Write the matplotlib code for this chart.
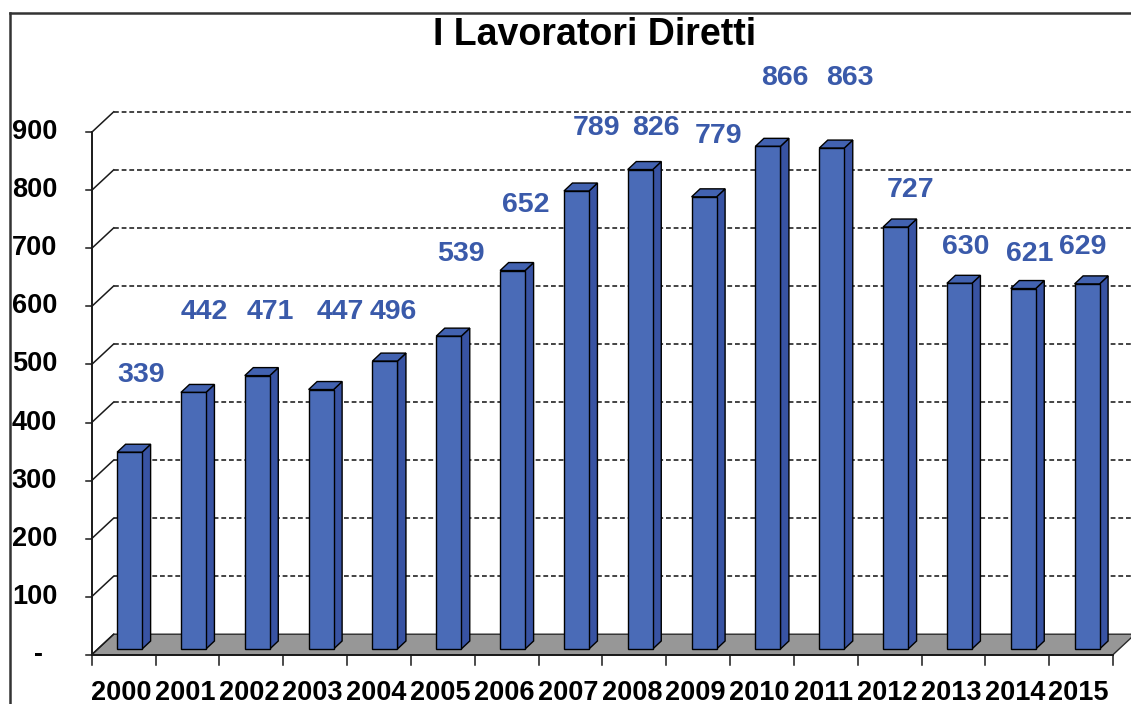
import matplotlib
matplotlib.use('Agg')
import matplotlib.pyplot as plt
from matplotlib.patches import Polygon
from matplotlib.lines import Line2D
from matplotlib import font_manager

# ---------------- data ----------------
title = 'I Lavoratori Diretti'
years = ['2000', '2001', '2002', '2003', '2004', '2005', '2006', '2007',
         '2008', '2009', '2010', '2011', '2012', '2013', '2014', '2015']
values = [339, 442, 471, 447, 496, 539, 652, 789, 826, 779, 866, 863, 727, 630, 621, 629]
y_ticks = [0, 100, 200, 300, 400, 500, 600, 700, 800, 900]
y_tick_labels = ['-', '100', '200', '300', '400', '500', '600', '700', '800', '900']

# ---------------- layout (pixels) ----------------
label_dx = [17, 17, 19, 25, 14, 18, 19, 26, 22, 20, 23, 24, 21, 12, 12, 2]
label_dy = [83, 86, 69, 83, 55, 88, 71, 69, 47, 67, 74, 76, 43, 42, 40, 43]

W, H, DPI = 1131, 704, 100
FRONT_COLOR = '#4A6BB7'
SIDE_COLOR = '#3853A3'
TOP_COLOR = '#4262B0'
LABEL_COLOR = '#3A5AAA'
FLOOR_COLOR = '#979797'

names = {f.name for f in font_manager.fontManager.ttflist}
BASE = 'Liberation Sans' if 'Liberation Sans' in names else 'DejaVu Sans'
if 'Liberation Sans Narrow' in names:
    TITLE_FONT, TITLE_SIZE = 'Liberation Sans Narrow', 31
else:
    TITLE_FONT, TITLE_SIZE = BASE, 27
plt.rcParams['font.family'] = [BASE, 'DejaVu Sans']

fig = plt.figure(figsize=(W / DPI, H / DPI), dpi=DPI)
x0, x1 = 91.7, 1113.0
y0, y9 = 654.7, 132.3
ax = fig.add_axes([x0 / W, (H - y0) / H, (x1 - x0) / W, (y0 - y9) / H])
n = len(values)
ax.set_xlim(-0.5, n - 0.5)
ax.set_ylim(0, 900)
ax.axis('off')

ppx = (x1 - x0) / n          # pixels per category
ppy = (y0 - y9) / 900.0      # pixels per value unit


def px(dx, dy):
    return dx / ppx, dy / ppy


# wall depth
wdx, wdy = px(22, 20.5)
# bar placement inside depth
bdx, bdy = px(6, 5.7)
# bar depth
ddx, ddy = px(8.5, 8)
bw = 25 / ppx

L, R = -0.5, n - 0.5

# floor
ax.add_patch(Polygon([(L, 0), (R, 0), (R + wdx, wdy), (L + wdx, wdy)], closed=True,
                     facecolor=FLOOR_COLOR, edgecolor='#2a2a2a', lw=1.0,
                     clip_on=False, zorder=1))

# back gridlines and left-wall diagonals
for v in y_ticks:
    if v > 0:
        ax.add_line(Line2D([L + wdx, R + wdx + 2], [v + wdy, v + wdy], color='#1a1a1a',
                           lw=1.15, linestyle=(0, (3.0, 1.8)), clip_on=False, zorder=2))
    ax.add_line(Line2D([L, L + wdx], [v, v + wdy], color='#1a1a1a', lw=1.1,
                       clip_on=False, zorder=2))

# front vertical axis + ticks
ax.add_line(Line2D([L, L], [0, 900], color='#1a1a1a', lw=1.4, clip_on=False, zorder=3))
tdx, _ = px(6, 0)
for v, lab in zip(y_ticks, y_tick_labels):
    ax.add_line(Line2D([L - tdx, L], [v, v], color='#1a1a1a', lw=1.1, clip_on=False, zorder=3))
    if lab == '-':
        ax.text(L - px(53, 0)[0], v, lab, ha='center', va='center', fontsize=19.5,
                fontweight='bold', color='black')
    else:
        ax.text(L - px(34.5, 0)[0], v, lab, ha='right', va='center', fontsize=19.5,
                fontweight='bold', color='black')

# front horizontal axis + ticks
ax.add_line(Line2D([L, R], [0, 0], color='#1a1a1a', lw=1.4, clip_on=False, zorder=3))
_, tdy = px(0, 10)
for k in range(n + 1):
    ax.add_line(Line2D([L + k, L + k], [0, -tdy], color='#1a1a1a', lw=1.1,
                       clip_on=False, zorder=3))
for i, yr in enumerate(years):
    ax.text(i - px(2.5, 0)[0], -px(0, 45.5)[1], yr, ha='center', va='baseline',
            fontsize=19.5, fontweight='bold', color='black')

# bars
for i, v in enumerate(values):
    xl = i - bw / 2 + bdx
    xr = i + bw / 2 + bdx
    yb = bdy
    yt = v + bdy
    ax.add_patch(Polygon([(xr, yb), (xr + ddx, yb + ddy), (xr + ddx, yt + ddy), (xr, yt)],
                         closed=True, facecolor=SIDE_COLOR, edgecolor='black', lw=1.0,
                         clip_on=False, zorder=4))
    ax.add_patch(Polygon([(xl, yt), (xr, yt), (xr + ddx, yt + ddy), (xl + ddx, yt + ddy)],
                         closed=True, facecolor=TOP_COLOR, edgecolor='black', lw=1.0,
                         clip_on=False, zorder=4))
    ax.add_patch(Polygon([(xl, yb), (xr, yb), (xr, yt), (xl, yt)],
                         closed=True, facecolor=FRONT_COLOR, edgecolor='black', lw=1.0,
                         clip_on=False, zorder=5))

# value labels
for i, v in enumerate(values):
    ddx_l, ddy_l = px(label_dx[i], label_dy[i])
    ax.text(i + ddx_l, v + ddy_l, str(v), ha='center', va='center', fontsize=20.5,
            fontweight='bold', color=LABEL_COLOR, zorder=6)

# outer frame (left and top)
fig.add_artist(Line2D([9.5 / W, 9.5 / W], [0, (H - 12.8) / H], color='#333333', lw=1.8,
                      transform=fig.transFigure))
fig.add_artist(Line2D([9.5 / W, 1.0], [(H - 12.8) / H, (H - 12.8) / H], color='#333333',
                      lw=1.8, transform=fig.transFigure))

# title
fig.text(595 / W, (H - 45) / H, title, ha='center', va='baseline',
         fontsize=TITLE_SIZE, fontweight='bold', family=[TITLE_FONT, BASE, 'DejaVu Sans'],
         color='black')

fig.savefig('out.png', dpi=DPI)
